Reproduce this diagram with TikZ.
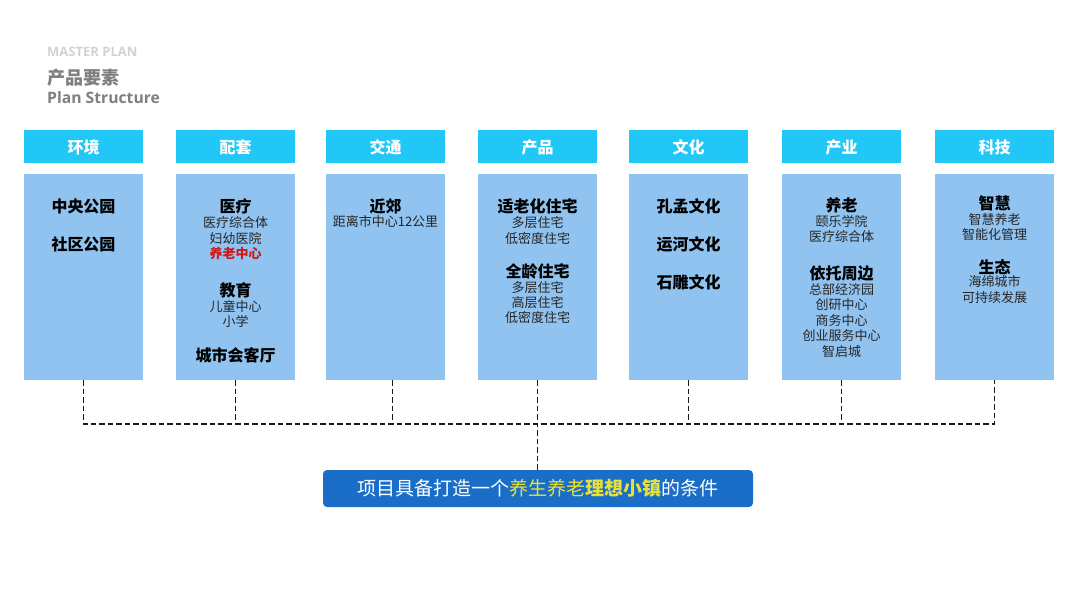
\documentclass[tikz,border=0pt]{standalone}
\usepackage{fontspec}
\setmainfont{Noto Sans CJK SC}
\newfontfamily\latinsans{Open Sans}
\usetikzlibrary{calc}
\definecolor{headcol}{HTML}{21C7F6}
\definecolor{bodycol}{HTML}{90C3F0}
\definecolor{basecol}{HTML}{1A6EC8}
\definecolor{redtxt}{HTML}{D01818}
\definecolor{yeltxt}{HTML}{E6E13C}
\definecolor{titlegray}{HTML}{7F7F7F}
\definecolor{lightgray}{HTML}{D2D2D2}
\tikzset{
  headbox/.style={fill=headcol, draw=none, minimum width=119pt, minimum height=33pt, inner sep=0pt,
    font=\fontsize{16}{18}\selectfont\bfseries, text=white},
  bodybox/.style={fill=bodycol, draw=none, minimum width=119pt, minimum height=206pt, inner sep=0pt},
  big/.style={font=\fontsize{16}{18}\selectfont\bfseries, text=black, inner sep=0pt},
  small/.style={font=\fontsize{13}{15}\selectfont, text=black!85, inner sep=0pt},
  conn/.style={draw=black!90, line width=1.7pt, dash pattern=on 5.5pt off 3pt},
}
\begin{document}
\begin{tikzpicture}[x=1pt,y=-1pt]
\useasboundingbox (0,0) rectangle (1080,607);
\fill[white] (0,0) rectangle (1080,607);
% titles
\node[anchor=west, inner sep=0pt, text=lightgray, font=\latinsans\fontsize{13}{15}\selectfont\bfseries] (mp) at (47,52) {MASTER PLAN};
\node[anchor=west, inner sep=0pt, text=titlegray, font=\fontsize{18}{20}\selectfont\bfseries] (cp) at (47,78) {产品要素};
\node[anchor=west, inner sep=0pt, text=titlegray, font=\latinsans\fontsize{15.7}{18}\selectfont\bfseries] (ps) at (47,98) {Plan Structure};
% columns
\foreach \i/\x/\t in {1/24/环境,2/176/配套,3/326/交通,4/478/产品,5/629/文化,6/782/产业,7/935/科技}{
  \node[headbox] (h\i) at (\x+59.5,147) {\t};
  \node[bodybox] (b\i) at (\x+59.5,277) {};
}
% column 1
\node[big] (c1a) at (83.5,206) {中央公园};
\node[big] (c1b) at (83.5,244) {社区公园};
% column 2
\node[big] (c2a) at (235.5,206) {医疗};
\node[small] (c2b) at (235.5,223) {医疗综合体};
\node[small] (c2c) at (235.5,239) {妇幼医院};
\node[small, text=redtxt, font=\fontsize{13}{15}\selectfont\bfseries] (c2d) at (235.5,254) {养老中心};
\node[big] (c2e) at (235.5,290) {教育};
\node[small] (c2f) at (235.5,307) {儿童中心};
\node[small] (c2g) at (235.5,322) {小学};
\node[big] (c2h) at (235.5,355) {城市会客厅};
% column 3
\node[big] (c3a) at (385.5,206) {近郊};
\node[small] (c3b) at (385.5,222) {距离市中心12公里};
% column 4
\node[big] (c4a) at (537.5,206) {适老化住宅};
\node[small] (c4b) at (537.5,223) {多层住宅};
\node[small] (c4c) at (537.5,239) {低密度住宅};
\node[big] (c4d) at (537.5,271) {全龄住宅};
\node[small] (c4e) at (537.5,288) {多层住宅};
\node[small] (c4f) at (537.5,303) {高层住宅};
\node[small] (c4g) at (537.5,318) {低密度住宅};
% column 5
\node[big] (c5a) at (688.5,206) {孔孟文化};
\node[big] (c5b) at (688.5,244) {运河文化};
\node[big] (c5c) at (688.5,282) {石雕文化};
% column 6
\node[big] (c6a) at (841.5,205) {养老};
\node[small] (c6b) at (841.5,222) {颐乐学院};
\node[small] (c6c) at (841.5,237) {医疗综合体};
\node[big] (c6d) at (841.5,273) {依托周边};
\node[small] (c6e) at (841.5,290) {总部经济园};
\node[small] (c6f) at (841.5,305) {创研中心};
\node[small] (c6g) at (841.5,321) {商务中心};
\node[small] (c6h) at (841.5,336) {创业服务中心};
\node[small] (c6i) at (841.5,352) {智启城};
% column 7
\node[big] (c7a) at (994.5,203) {智慧};
\node[small] (c7b) at (994.5,220) {智慧养老};
\node[small] (c7c) at (994.5,235) {智能化管理};
\node[big] (c7d) at (994.5,267) {生态};
\node[small] (c7e) at (994.5,282) {海绵城市};
\node[small] (c7f) at (994.5,298) {可持续发展};
% bottom box
\node[fill=basecol, rounded corners=4pt, minimum width=430pt, minimum height=37pt, inner sep=0pt,
  text=white, font=\fontsize{19}{21}\selectfont] (goal) at (538,488.5)
  {项目具备打造一个\textcolor{yeltxt}{养生养老\textbf{理想小镇}}的条件};
% connectors
\coordinate (busL) at (b1.south |- 0,424);
\coordinate (busR) at (b7.south |- 0,424);
\draw[conn] (b1.south) -- (busL) -- (busR) -- (b7.south);
\foreach \i in {2,4,5,6}{
  \draw[conn] (b\i.south) -- (b\i.south |- busL);
}
\draw[conn] ($(b3.south)+(7,0)$) -- ($(b3.south |- busL)+(7,0)$);
\draw[conn] (goal.north -| b4.south) -- (b4.south |- busL);
\end{tikzpicture}
\end{document}
